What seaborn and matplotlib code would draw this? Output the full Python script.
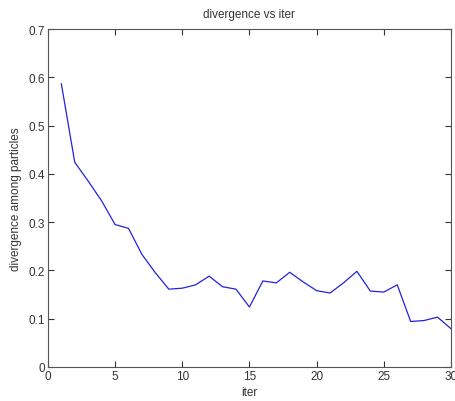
import matplotlib
matplotlib.use("Agg")
import matplotlib.pyplot as plt
import seaborn as sns
import pandas as pd

iters = list(range(1, 31))
divergence = [0.587, 0.424, 0.385, 0.344, 0.295, 0.287, 0.233, 0.195, 0.161, 0.163,
              0.170, 0.188, 0.166, 0.161, 0.124, 0.178, 0.174, 0.196, 0.176, 0.158,
              0.153, 0.174, 0.198, 0.157, 0.155, 0.170, 0.094, 0.096, 0.103, 0.079]
xticks = [0, 5, 10, 15, 20, 25, 30]
yticks = [0, 0.1, 0.2, 0.3, 0.4, 0.5, 0.6, 0.7]
ytick_labels = ["0", "0.1", "0.2", "0.3", "0.4", "0.5", "0.6", "0.7"]

sns.set_style("white")
plt.rcParams['font.family'] = ['Liberation Sans', 'DejaVu Sans']

df = pd.DataFrame({"iter": iters, "divergence": divergence})

fig = plt.figure(figsize=(4.56, 4.02), dpi=100)
ax = fig.add_axes([0.105, 0.085, 0.884, 0.84])
sns.lineplot(data=df, x="iter", y="divergence", ax=ax, color="#2222dd", linewidth=0.9)

ax.set_xlim(0, 30)
ax.set_ylim(0, 0.7)
ax.set_xticks(xticks)
ax.set_xticklabels([str(t) for t in xticks])
ax.set_yticks(yticks)
ax.set_yticklabels(ytick_labels)
ax.tick_params(direction="in", length=4, width=0.8, top=True, right=True,
               labelsize=8.5, colors="#333333", pad=2,
               bottom=True, left=True)
ax.tick_params(axis="both", labelcolor="#333333")
for s in ax.spines.values():
    s.set_visible(True)
    s.set_color("#555555")
    s.set_linewidth(0.8)
ax.set_xlabel("iter", fontsize=8.5, color="#333333", labelpad=3)
ax.set_ylabel("divergence among particles", fontsize=8.5, color="#333333", labelpad=5)
ax.set_title("divergence vs iter", fontsize=8.5, color="#333333", pad=9)

fig.savefig("out.png", dpi=100)
